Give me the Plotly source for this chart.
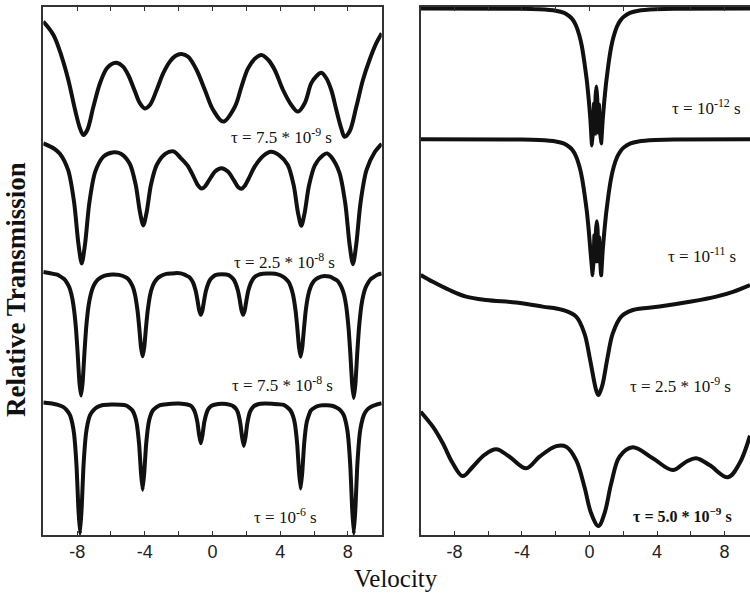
import plotly.graph_objects as go

# Mossbauer spectra for several relaxation times tau.
# Each spectrum: (velocity [mm/s], relative transmission [%]) pairs.

# ---- Left panel: magnetically split spectra ----
spec_a1 = [(-10, 99.6), (-9.40, 96.25), (-8.91, 90.8), (-8.52, 85.0), (-8.12, 77.5), (-7.83, 72.9),
           (-7.63, 71.25), (-7.40, 72.5), (-7.04, 78.3), (-6.65, 84.2), (-6.25, 87.9), (-6.0, 88.9),
           (-5.66, 89.3), (-5.3, 88.4), (-4.98, 86.25), (-4.58, 82.1), (-4.29, 79.2), (-3.99, 77.9),
           (-3.70, 78.75), (-3.30, 82.5), (-2.91, 86.7), (-2.52, 89.6), (-2.2, 91.0), (-1.83, 91.5),
           (-1.44, 90.8), (-0.94, 87.5), (-0.45, 82.5), (0.04, 77.5), (0.63, 74.6), (1.32, 78.3),
           (1.71, 83.3), (2.10, 87.9), (2.5, 90.3), (2.89, 91.25), (3.3, 90.0), (3.68, 87.5),
           (4.17, 82.5), (4.66, 78.75), (5.05, 77.1), (5.45, 79.2), (5.84, 84.2), (6.15, 86.0),
           (6.43, 86.8), (6.72, 85.5), (7.02, 82.5), (7.32, 77.5), (7.61, 72.9), (7.81, 70.8),
           (8.10, 72.1), (8.50, 78.3), (8.89, 85.0), (9.28, 90.0), (9.68, 94.2), (10.0, 96.7)]

spec_a2 = [(-10, 98.9), (-9.40, 97.7), (-9.03, 96.4), (-8.53, 92.2), (-8.18, 84.2), (-7.93, 74.0),
           (-7.73, 68.9), (-7.53, 73.8), (-7.28, 84.0), (-6.93, 91.85), (-6.43, 95.66), (-5.91, 96.65),
           (-5.39, 96.26), (-4.89, 93.8), (-4.54, 88.6), (-4.29, 81.8), (-4.09, 78.4), (-3.89, 81.75),
           (-3.64, 88.5), (-3.29, 93.56), (-2.79, 96.3), (-2.3, 96.9), (-1.85, 95.1), (-1.45, 93.2),
           (-1.1, 90.4), (-0.85, 88.35), (-0.65, 87.6), (-0.45, 88.1), (-0.2, 89.7), (0.15, 91.9),
           (0.53, 92.7), (0.91, 91.85), (1.26, 89.7), (1.51, 88.0), (1.71, 87.55), (1.91, 88.3),
           (2.16, 90.3), (2.51, 93.2), (3.01, 95.8), (3.45, 96.8), (3.95, 95.9), (4.45, 93.5),
           (4.8, 88.4), (5.05, 81.6), (5.25, 78.3), (5.45, 81.6), (5.7, 88.3), (6.05, 93.4),
           (6.55, 96.0), (6.78, 96.4), (7.0, 95.6), (7.5, 91.6), (7.85, 83.8), (8.1, 73.7),
           (8.3, 68.7), (8.5, 73.8), (8.75, 84.1), (9.1, 92.2), (9.6, 96.8), (10, 98.8)]

spec_a3 = [(-10, 99.4), (-9.17, 98.7), (-8.77, 97.6), (-8.62, 96.8), (-8.47, 95.6), (-8.34, 93.8),
           (-8.22, 91.1), (-8.07, 85.3), (-7.97, 79.1), (-7.87, 72.0), (-7.77, 68.5), (-7.67, 72.0),
           (-7.57, 79.1), (-7.47, 85.3), (-7.32, 91.1), (-7.20, 93.7), (-7.07, 95.5), (-6.92, 96.7),
           (-6.77, 97.5), (-6.37, 98.45), (-5.95, 98.75), (-5.53, 98.65), (-5.13, 98.05), (-4.98, 97.6),
           (-4.83, 96.7), (-4.70, 95.55), (-4.58, 93.7), (-4.43, 89.7), (-4.33, 85.5), (-4.23, 80.7),
           (-4.13, 78.3), (-4.03, 80.7), (-3.93, 85.5), (-3.83, 89.7), (-3.68, 93.8), (-3.56, 95.6),
           (-3.43, 96.8), (-3.28, 97.65), (-3.13, 98.2), (-2.73, 98.9), (-2.41, 99.0), (-2.09, 99.1),
           (-1.69, 98.8), (-1.54, 98.45), (-1.39, 98.15), (-1.26, 97.55), (-1.14, 96.65), (-0.99, 94.6),
           (-0.89, 92.4), (-0.79, 89.9), (-0.69, 88.7), (-0.59, 89.9), (-0.49, 92.4), (-0.39, 94.6),
           (-0.24, 96.6), (-0.12, 97.55), (0.01, 98.1), (0.16, 98.6), (0.56, 98.8), (0.96, 98.6),
           (1.11, 98.1), (1.24, 97.55), (1.36, 96.6), (1.51, 94.6), (1.61, 92.4), (1.71, 89.9),
           (1.81, 88.7), (1.91, 89.9), (2.01, 92.4), (2.11, 94.6), (2.26, 96.6), (2.38, 97.55),
           (2.51, 98.2), (2.66, 98.55), (2.81, 98.8), (3.21, 99.0), (3.51, 99.0), (3.81, 98.85),
           (4.21, 98.1), (4.36, 97.55), (4.51, 96.8), (4.64, 95.5), (4.76, 93.7), (4.91, 89.7),
           (5.01, 85.5), (5.11, 80.7), (5.21, 78.2), (5.31, 80.7), (5.41, 85.4), (5.51, 89.7),
           (5.66, 93.65), (5.78, 95.45), (5.91, 96.6), (6.06, 97.4), (6.21, 97.85), (6.61, 98.35),
           (6.78, 98.3), (6.95, 98.2), (7.35, 97.3), (7.50, 96.55), (7.65, 95.3), (7.78, 93.6),
           (7.90, 90.9), (8.05, 84.9), (8.15, 78.7), (8.25, 71.5), (8.35, 67.9), (8.45, 71.6),
           (8.55, 78.8), (8.65, 85.0), (8.80, 91.0), (8.92, 93.7), (9.05, 95.5), (9.20, 96.7),
           (9.35, 97.6), (9.75, 98.7), (10, 99.0)]

spec_a4 = [(-10, 99.8), (-9.43, 99.5), (-9.13, 99.2), (-8.83, 98.7), (-8.63, 97.95), (-8.43, 96.7),
           (-8.28, 94.5), (-8.18, 91.9), (-8.03, 83.5), (-7.93, 73.6), (-7.83, 67.0), (-7.73, 73.6),
           (-7.63, 83.5), (-7.48, 91.9), (-7.38, 94.5), (-7.23, 96.7), (-7.03, 97.9), (-6.83, 98.6),
           (-6.53, 99.1), (-6.0, 99.3), (-5.43, 99.25), (-5.13, 99.1), (-4.93, 98.6), (-4.73, 97.8),
           (-4.58, 96.35), (-4.48, 94.6), (-4.33, 89.0), (-4.23, 82.4), (-4.13, 78.0), (-4.03, 82.4),
           (-3.93, 89.0), (-3.78, 94.6), (-3.68, 96.35), (-3.53, 97.8), (-3.33, 98.6), (-3.13, 99.1),
           (-2.83, 99.3), (-2.41, 99.5), (-1.99, 99.55), (-1.69, 99.45), (-1.49, 99.3), (-1.29, 99.0),
           (-1.14, 98.25), (-1.04, 97.4), (-0.89, 94.8), (-0.79, 91.7), (-0.69, 89.6), (-0.59, 91.7),
           (-0.49, 94.8), (-0.34, 97.3), (-0.24, 98.2), (-0.09, 98.9), (0.11, 99.25), (0.58, 99.5),
           (1.05, 99.2), (1.25, 98.8), (1.40, 98.15), (1.50, 97.3), (1.65, 94.4), (1.75, 91.1),
           (1.85, 88.9), (1.95, 91.1), (2.05, 94.4), (2.20, 97.3), (2.30, 98.15), (2.45, 98.9),
           (2.65, 99.3), (2.85, 99.5), (3.53, 99.5), (3.91, 99.35), (4.21, 99.2), (4.41, 98.65),
           (4.61, 97.8), (4.76, 96.4), (4.86, 94.7), (5.01, 89.2), (5.11, 82.6), (5.21, 78.3),
           (5.31, 82.6), (5.41, 89.2), (5.56, 94.7), (5.66, 96.2), (5.81, 97.8), (6.01, 98.45),
           (6.21, 98.9), (6.51, 99.1), (6.78, 99.1), (7.05, 99.0), (7.35, 98.5), (7.55, 97.9),
           (7.75, 96.7), (7.90, 94.5), (8.00, 91.9), (8.15, 83.5), (8.25, 73.6), (8.35, 67.0),
           (8.45, 73.6), (8.55, 83.5), (8.70, 91.9), (8.80, 94.5), (8.95, 96.7), (9.15, 98.05),
           (9.35, 98.7), (9.65, 99.2), (10, 99.6)]

# ---- Right panel: fast-relaxation spectra ----
spec_b1 = [(-10, 100), (-4, 99.92), (-3, 99.8), (-2, 99.45), (-1.5, 98.9), (-1.2, 98.1), (-1.0, 97.25),
           (-0.8, 95.75), (-0.6, 93.25), (-0.45, 90.5), (-0.3, 86.5), (-0.15, 81.75), (-0.05, 77.5),
           (0.05, 72.5), (0.15, 65.75), (0.22, 70.5), (0.27, 76.25), (0.31, 68.75), (0.36, 78),
           (0.41, 80.5), (0.46, 77.5), (0.51, 69), (0.56, 76), (0.61, 70.5), (0.69, 66.25), (0.78, 72),
           (0.88, 77), (0.98, 81.25), (1.13, 86.25), (1.28, 90.25), (1.43, 93), (1.63, 95.5), (1.83, 97),
           (2.05, 98), (2.4, 98.9), (2.9, 99.45), (3.9, 99.8), (5.0, 99.92), (9.51, 100)]

spec_b2 = [(-10, 100), (-4, 99.92), (-3, 99.8), (-2, 99.45), (-1.5, 98.9), (-1.2, 98.1), (-1.0, 97.25),
           (-0.8, 95.75), (-0.6, 93.25), (-0.45, 90.5), (-0.3, 86.5), (-0.15, 81.75), (-0.05, 77.5),
           (0.05, 72.5), (0.19, 66.0), (0.25, 70.5), (0.29, 76.0), (0.33, 69.5), (0.38, 77.0),
           (0.43, 79.5), (0.48, 77.5), (0.52, 69.5), (0.57, 75.5), (0.62, 71.0), (0.69, 66.0), (0.78, 72),
           (0.88, 77), (0.98, 81.25), (1.13, 86.25), (1.28, 90.25), (1.43, 93), (1.63, 95.5), (1.83, 97),
           (2.05, 98), (2.4, 98.9), (2.9, 99.45), (3.9, 99.8), (5.0, 99.92), (9.51, 100)]

spec_b3 = [(-10, 100), (-9.28, 98.3), (-8.3, 96.25), (-7.31, 94.6), (-6.12, 93.75), (-4.35, 93.1),
           (-2.77, 92.1), (-1.58, 91.25), (-0.79, 89.6), (-0.3, 85.4), (0.0, 79.6), (0.3, 72.9),
           (0.41, 71.0), (0.53, 70.0), (0.65, 71.0), (0.79, 72.9), (1.08, 79.6), (1.38, 85.4),
           (1.88, 89.6), (2.57, 91.25), (4.15, 92.1), (5.93, 93.3), (7.51, 94.6), (8.5, 95.8), (9.51, 97.5)]

spec_b4 = [(-10, 100), (-9.28, 96.25), (-8.69, 92.1), (-8.1, 87.1), (-7.51, 83.9), (-6.91, 86.25),
           (-6.22, 89.2), (-5.53, 90.6), (-4.74, 88.75), (-3.75, 85.85), (-2.96, 88.75), (-1.97, 91.4),
           (-1.38, 91.25), (-0.79, 87.9), (-0.3, 81.25), (0.1, 74.6), (0.53, 71.4), (0.89, 74.6),
           (1.29, 82.1), (1.78, 88.75), (2.57, 91.1), (3.75, 88.35), (4.94, 85.4), (5.73, 87.5),
           (6.32, 88.35), (7.11, 86.65), (8.2, 83.6), (8.89, 87.1), (9.51, 94.0)]

tick_vals = [-8, -4, 0, 4, 8]
tick_text = ["-8", "-4", "0", "4", "8"]

labels_a = ["τ = 7.5 * 10<sup>-9</sup> s", "τ = 2.5 * 10<sup>-8</sup> s",
            "τ = 7.5 * 10<sup>-8</sup> s", "τ = 10<sup>-6</sup> s"]
labels_b = ["τ = 10<sup>-12</sup> s", "τ = 10<sup>-11</sup> s",
            "τ = 2.5 * 10<sup>-9</sup> s", "<b>τ = 5.0 * 10<sup>−9</sup> s</b>"]

# vertical stacking offsets, curve smoothing and label placement (layout only)
offs_a = [28.75, -1.0, -33.625, -66.675]
offs_b = [31.625, -1.075, -35.0, -69.175]
smooth_a = [1.0, 0.8, 0.35, 0.35]
smooth_b = [0.35, 0.35, 1.0, 1.0]
lab_pos_a = [(4.10, 99.8), (4.25, 68.5), (4.15, 37.8), (4.30, 4.8)]
lab_pos_b = [(6.95, 107.0), (6.65, 70.0), (5.40, 37.5), (5.51, 4.9)]
lab_size_b = [17, 17, 17, 16]

serif = "Liberation Serif, Times New Roman, serif"
sans = "Liberation Sans, Arial, sans-serif"


def line_style(sm):
    return dict(color="#111111", width=4, shape="spline", smoothing=sm)


fig = go.Figure()
for spec, off, sm in zip([spec_a1, spec_a2, spec_a3, spec_a4], offs_a, smooth_a):
    fig.add_trace(go.Scatter(x=[p[0] for p in spec], y=[p[1] + off for p in spec], mode="lines",
                             line=line_style(sm), xaxis="x", yaxis="y", hoverinfo="skip",
                             showlegend=False))
for spec, off, sm in zip([spec_b1, spec_b2, spec_b3, spec_b4], offs_b, smooth_b):
    fig.add_trace(go.Scatter(x=[p[0] for p in spec], y=[p[1] + off for p in spec], mode="lines",
                             line=line_style(sm), xaxis="x2", yaxis="y2", hoverinfo="skip",
                             showlegend=False))

ann = []
for txt, (x, y) in zip(labels_a, lab_pos_a):
    ann.append(dict(text=txt, x=x, y=y, xref="x", yref="y", showarrow=False,
                    xanchor="center", yanchor="middle",
                    font=dict(family=serif, size=17, color="#111")))
for txt, (x, y), sz in zip(labels_b, lab_pos_b, lab_size_b):
    ann.append(dict(text=txt, x=x, y=y, xref="x2", yref="y2", showarrow=False,
                    xanchor="center", yanchor="middle",
                    font=dict(family=serif, size=sz, color="#111")))
ann.append(dict(text="<b>Relative Transmission</b>", x=16 / 750, y=(535 - 290) / 528,
                xref="paper", yref="paper", textangle=-90, showarrow=False,
                xanchor="center", yanchor="middle",
                font=dict(family=serif, size=27, color="#111")))
ann.append(dict(text="Velocity", x=396 / 750, y=(535 - 578) / 528, xref="paper", yref="paper",
                showarrow=False, xanchor="center", yanchor="middle",
                font=dict(family=serif, size=25, color="#111")))

xcommon = dict(showline=True, linecolor="#333", linewidth=1.5, mirror="ticks", ticks="inside",
               ticklen=4, tickcolor="#333", tickvals=tick_vals, ticktext=tick_text,
               minor=dict(ticks="inside", ticklen=4, dtick=2, tick0=0, tickcolor="#333"),
               showgrid=False, zeroline=False, tickfont=dict(family=sans, size=18, color="#222"))
ycommon = dict(range=[0, 132], showline=True, linecolor="#333", linewidth=1.5, ticks="",
               showticklabels=False, showgrid=False, zeroline=False, domain=[0, 1])

fig.update_layout(
    width=750, height=595, margin=dict(l=0, r=0, t=7, b=60),
    paper_bgcolor="white", plot_bgcolor="white",
    xaxis=dict(domain=[43.3 / 750, 381.7 / 750], range=[-10, 10], anchor="y", **xcommon),
    yaxis=dict(anchor="x", mirror=True, **ycommon),
    xaxis2=dict(domain=[420.7 / 750, 1.0], range=[-10, 9.51], anchor="y2", **xcommon),
    yaxis2=dict(anchor="x2", mirror=False, **ycommon),
    annotations=ann,
)

fig.write_html("out.html")
